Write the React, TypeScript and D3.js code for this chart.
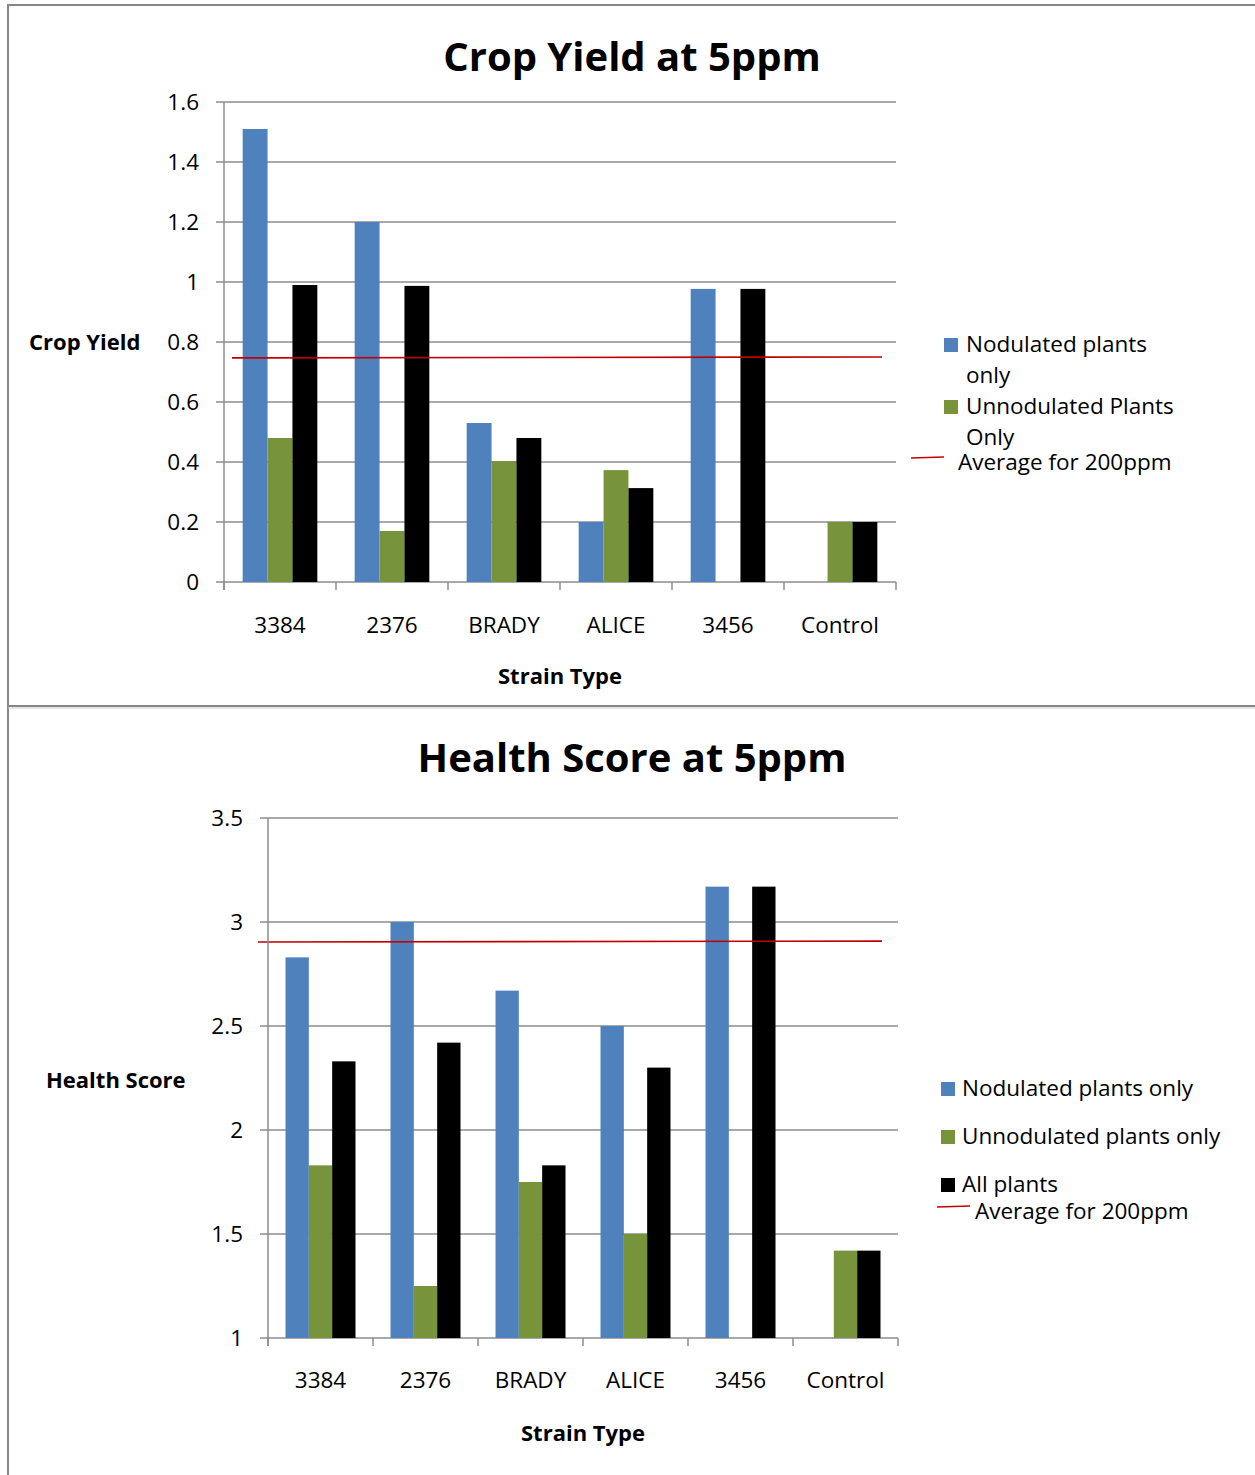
import * as d3 from 'd3'

const categories = ['3384', '2376', 'BRADY', 'ALICE', '3456', 'Control']

// Crop yield at 5ppm
const yieldNodulated = [1.51, 1.2, 0.53, 0.2, 0.977, 0]
const yieldUnnodulated = [0.48, 0.17, 0.403, 0.373, 0, 0.2]
const yieldAll = [0.99, 0.987, 0.48, 0.313, 0.977, 0.2]
const yieldAverage200 = [0.747, 0.75]
const yieldTicks = [0, 0.2, 0.4, 0.6, 0.8, 1, 1.2, 1.4, 1.6]

// Health score at 5ppm
const healthNodulated = [2.83, 3.0, 2.67, 2.5, 3.17, 0]
const healthUnnodulated = [1.83, 1.25, 1.75, 1.5, 0, 1.42]
const healthAll = [2.33, 2.42, 1.83, 2.3, 3.17, 1.42]
const healthAverage200 = [2.904, 2.908]
const healthTicks = [1, 1.5, 2, 2.5, 3, 3.5]

const BLUE = '#4f81bd'
const GREEN = '#77933c'
const BLACK = '#000000'
const RED = '#c00000'
const GRID = '#8c8c8c'
const FONT = '"Open Sans", Lato, sans-serif'
const FS = 22.5

interface LegendItem {
  kind: 'box' | 'line'
  color: string
  lines: string[]
  x: number
  y: number
  textX: number
}

interface PanelProps {
  title: string
  titleY: number
  yTitle: string
  yTitleX: number
  yTitleY: number
  plot: { left: number; right: number; top: number; bottom: number }
  ticks: number[]
  tickFmt: (v: number) => string
  series: number[][]
  average: number[]
  avgX: [number, number]
  catLabelY: number
  xTitleY: number
  xTitleX: number
  legend: LegendItem[]
}

function Panel(p: PanelProps) {
  const x = d3.scaleBand<string>().domain(categories).range([p.plot.left, p.plot.right])
  const y = d3
    .scaleLinear()
    .domain([p.ticks[0], p.ticks[p.ticks.length - 1]])
    .range([p.plot.bottom, p.plot.top])
  const bw = x.bandwidth()
  // gap width 150% -> 3 bars + 1.5 bar widths of gap per category
  const barW = bw / 4.5
  const inner = d3.scaleBand<number>().domain([0, 1, 2]).range([0, barW * 3])
  const colors = [BLUE, GREEN, BLACK]
  const base = p.ticks[0]

  return (
    <g>
      <text x={632} y={p.titleY} textAnchor="middle" fontSize={40} fontWeight={700} fontFamily={FONT}>
        {p.title}
      </text>

      {/* gridlines + y ticks */}
      {p.ticks.map(t => (
        <line key={'g' + t} x1={p.plot.left - 8} x2={p.plot.right} y1={y(t)} y2={y(t)} stroke={GRID} strokeWidth={1.5} />
      ))}
      {p.ticks.map(t => (
        <text key={'t' + t} x={p.plot.left - 25} y={y(t) + 8} textAnchor="end" fontSize={FS} fontFamily={FONT}>
          {p.tickFmt(t)}
        </text>
      ))}

      {/* bars */}
      {p.series.map((s, si) =>
        s.map((v, ci) =>
          v > base ? (
            <rect
              key={si + '-' + ci}
              x={(x(categories[ci]) ?? 0) + barW * 0.75 + (inner(si) ?? 0)}
              y={y(v)}
              width={barW}
              height={y(base) - y(v)}
              fill={colors[si]}
            />
          ) : null
        )
      )}

      {/* average for 200ppm */}
      <line
        x1={p.avgX[0]}
        x2={p.avgX[1]}
        y1={y(p.average[0])}
        y2={y(p.average[1])}
        stroke={RED}
        strokeWidth={1.6}
      />

      {/* axes */}
      <line x1={p.plot.left} x2={p.plot.left} y1={p.plot.top} y2={p.plot.bottom + 8} stroke={GRID} strokeWidth={1.5} />
      {d3.range(categories.length + 1).map(i => {
        const xx = p.plot.left + i * bw
        return <line key={'xt' + i} x1={xx} x2={xx} y1={p.plot.bottom} y2={p.plot.bottom + 8} stroke={GRID} strokeWidth={1.5} />
      })}
      {categories.map(c => (
        <text key={'c' + c} x={(x(c) ?? 0) + bw / 2} y={p.catLabelY} textAnchor="middle" fontSize={FS} fontFamily={FONT}>
          {c}
        </text>
      ))}

      <text x={p.xTitleX} y={p.xTitleY} textAnchor="middle" fontSize={22} fontWeight={700} fontFamily={FONT}>
        Strain Type
      </text>
      <text x={p.yTitleX} y={p.yTitleY} fontSize={22} fontWeight={700} fontFamily={FONT}>
        {p.yTitle}
      </text>

      {/* legend */}
      {p.legend.map((l, i) => (
        <g key={'l' + i}>
          {l.kind === 'box' ? (
            <rect x={l.x} y={l.y - 14} width={14} height={14} fill={l.color} />
          ) : (
            <line x1={l.x} x2={l.x + 33} y1={l.y - 12} y2={l.y - 13} stroke={l.color} strokeWidth={1.6} />
          )}
          {l.lines.map((t, j) => (
            <text key={j} x={l.textX} y={l.y + j * 31} fontSize={FS} fontFamily={FONT}>
              {t}
            </text>
          ))}
        </g>
      ))}
    </g>
  )
}

export default function App() {
  const W = 1255
  const H = 1475
  return (
    <svg width={W} height={H} style={{ position: 'absolute', left: 0, top: 0, background: '#fff' }} fontFamily={FONT}>
      <rect x={0} y={0} width={W} height={H} fill="#fff" />
      {/* chart frames */}
      <line x1={8} x2={W} y1={5} y2={5} stroke="#868686" strokeWidth={2} />
      <line x1={8} x2={8} y1={4} y2={H} stroke="#868686" strokeWidth={2} />
      <line x1={8} x2={W} y1={706} y2={706} stroke="#868686" strokeWidth={2} />
      <line x1={8} x2={W} y1={708} y2={708} stroke="#cfcfcf" strokeWidth={1} />

      <Panel
        title="Crop Yield at 5ppm"
        titleY={71}
        yTitle="Crop Yield"
        yTitleX={29}
        yTitleY={350}
        plot={{ left: 224, right: 896, top: 102, bottom: 582 }}
        ticks={yieldTicks}
        tickFmt={v => String(+v.toFixed(1))}
        series={[yieldNodulated, yieldUnnodulated, yieldAll]}
        average={yieldAverage200}
        avgX={[232, 882]}
        catLabelY={633}
        xTitleX={560}
        xTitleY={684}
        legend={[
          { kind: 'box', color: BLUE, lines: ['Nodulated plants', 'only'], x: 944, y: 352, textX: 966 },
          { kind: 'box', color: GREEN, lines: ['Unnodulated Plants', 'Only'], x: 944, y: 414, textX: 966 },
          { kind: 'line', color: RED, lines: ['Average for 200ppm'], x: 911, y: 470, textX: 958 },
        ]}
      />
      <Panel
        title="Health Score at 5ppm"
        titleY={772}
        yTitle="Health Score"
        yTitleX={46}
        yTitleY={1088}
        plot={{ left: 268, right: 898, top: 818, bottom: 1338 }}
        ticks={healthTicks}
        tickFmt={v => String(v)}
        series={[healthNodulated, healthUnnodulated, healthAll]}
        average={healthAverage200}
        avgX={[258, 882]}
        catLabelY={1388}
        xTitleX={583}
        xTitleY={1441}
        legend={[
          { kind: 'box', color: BLUE, lines: ['Nodulated plants only'], x: 941, y: 1096, textX: 962 },
          { kind: 'box', color: GREEN, lines: ['Unnodulated plants only'], x: 941, y: 1144, textX: 962 },
          { kind: 'box', color: BLACK, lines: ['All plants'], x: 941, y: 1192, textX: 962 },
          { kind: 'line', color: RED, lines: ['Average for 200ppm'], x: 937, y: 1219, textX: 975 },
        ]}
      />
    </svg>
  )
}
